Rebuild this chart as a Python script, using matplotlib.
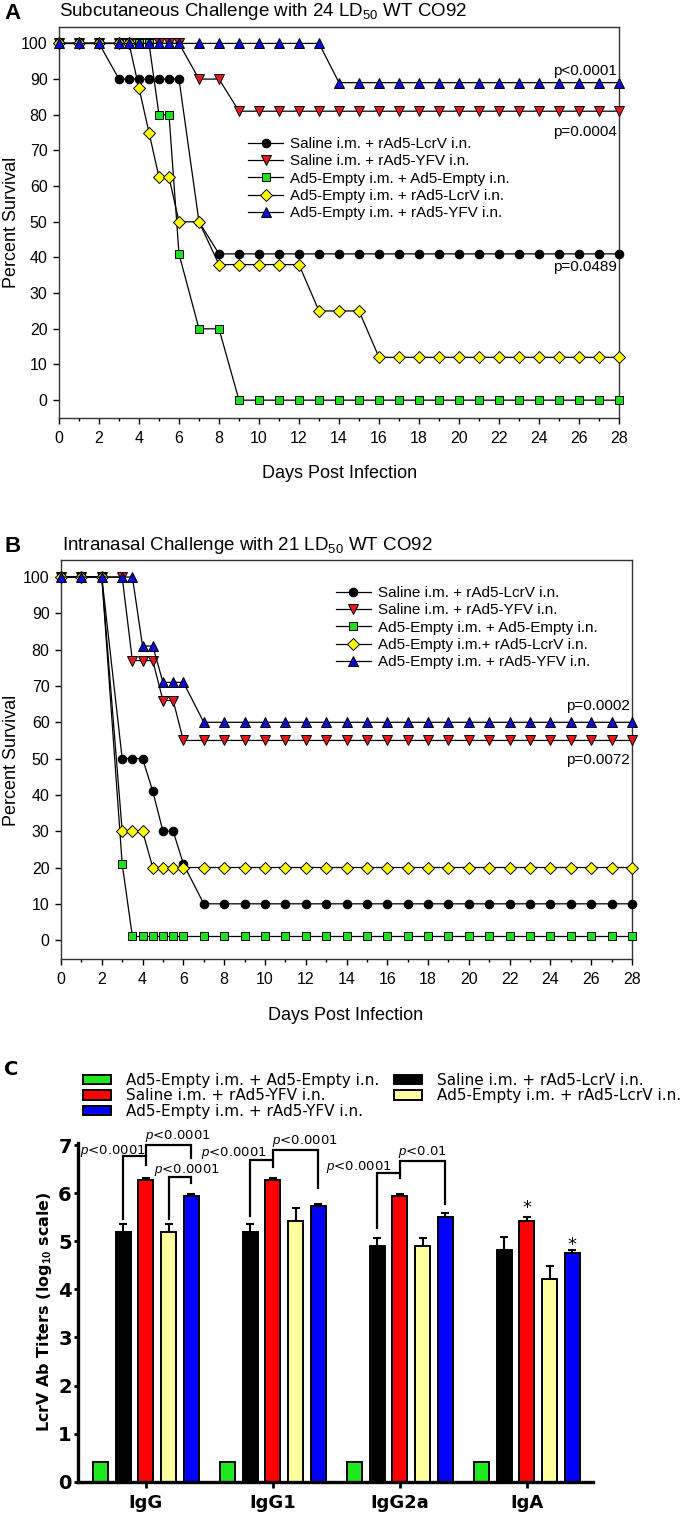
import numpy as np
import matplotlib
matplotlib.use('Agg')
import matplotlib.pyplot as plt
from matplotlib.ticker import MultipleLocator

plt.rcParams['font.family'] = ['Liberation Sans', 'DejaVu Sans']
plt.rcParams['mathtext.fontset'] = 'custom'
plt.rcParams['mathtext.rm'] = 'Liberation Sans'
plt.rcParams['mathtext.it'] = 'Liberation Sans:italic'
plt.rcParams['mathtext.bf'] = 'Liberation Sans:bold'

# ---------------- data ----------------
days = [0, 1, 2, 3, 3.5, 4, 4.5, 5, 5.5, 6, 7, 8, 9, 10, 11, 12, 13, 14, 15,
        16, 17, 18, 19, 20, 21, 22, 23, 24, 25, 26, 27, 28]

labels_a = ['Saline i.m. + rAd5-LcrV i.n.', 'Saline i.m. + rAd5-YFV i.n.',
            'Ad5-Empty i.m. + Ad5-Empty i.n.', 'Ad5-Empty i.m. + rAd5-LcrV i.n.',
            'Ad5-Empty i.m. + rAd5-YFV i.n.']
labels_b = ['Saline i.m. + rAd5-LcrV i.n.', 'Saline i.m. + rAd5-YFV i.n.',
            'Ad5-Empty i.m. + Ad5-Empty i.n.', 'Ad5-Empty i.m.+ rAd5-LcrV i.n.',
            'Ad5-Empty i.m. + rAd5-YFV i.n.']

# Panel A - subcutaneous challenge (percent survival)
a_saline_lcrv = [100, 100, 100, 90, 90, 90, 90, 90, 90, 90, 50, 41, 41, 41, 41, 41,
                 41, 41, 41, 41, 41, 41, 41, 41, 41, 41, 41, 41, 41, 41, 41, 41]
a_saline_yfv = [100, 100, 100, 100, 100, 100, 100, 100, 100, 100, 90, 90, 81, 81, 81, 81,
                81, 81, 81, 81, 81, 81, 81, 81, 81, 81, 81, 81, 81, 81, 81, 81]
a_empty_empty = [100, 100, 100, 100, 100, 100, 100, 80, 80, 41, 20, 20, 0, 0, 0, 0,
                 0, 0, 0, 0, 0, 0, 0, 0, 0, 0, 0, 0, 0, 0, 0, 0]
a_empty_lcrv = [100, 100, 100, 100, 100, 87.5, 75, 62.5, 62.5, 50, 50, 38, 38, 38, 38, 38,
                25, 25, 25, 12, 12, 12, 12, 12, 12, 12, 12, 12, 12, 12, 12, 12]
a_empty_yfv = [100, 100, 100, 100, 100, 100, 100, 100, 100, 100, 100, 100, 100, 100, 100, 100,
               100, 89, 89, 89, 89, 89, 89, 89, 89, 89, 89, 89, 89, 89, 89, 89]
pvals_a = ['p<0.0001', 'p=0.0004', 'p=0.0489']
pvals_a_y = [92.3, 75.3, 37.2]

# Panel B - intranasal challenge (percent survival)
b_saline_lcrv = [100, 100, 100, 50, 50, 50, 41, 30, 30, 21, 10, 10, 10, 10, 10, 10,
                 10, 10, 10, 10, 10, 10, 10, 10, 10, 10, 10, 10, 10, 10, 10, 10]
b_saline_yfv = [100, 100, 100, 100, 77, 77, 77, 66, 66, 55, 55, 55, 55, 55, 55, 55,
                55, 55, 55, 55, 55, 55, 55, 55, 55, 55, 55, 55, 55, 55, 55, 55]
b_empty_empty = [100, 100, 100, 21, 1, 1, 1, 1, 1, 1, 1, 1, 1, 1, 1, 1,
                 1, 1, 1, 1, 1, 1, 1, 1, 1, 1, 1, 1, 1, 1, 1, 1]
b_empty_lcrv = [100, 100, 100, 30, 30, 30, 20, 20, 20, 20, 20, 20, 20, 20, 20, 20,
                20, 20, 20, 20, 20, 20, 20, 20, 20, 20, 20, 20, 20, 20, 20, 20]
b_empty_yfv = [100, 100, 100, 100, 100, 81, 81, 71, 71, 71, 60, 60, 60, 60, 60, 60,
               60, 60, 60, 60, 60, 60, 60, 60, 60, 60, 60, 60, 60, 60, 60, 60]
pvals_b = ['p=0.0002', 'p=0.0072']
pvals_b_y = [64.5, 49.6]

# Panel C - LcrV antibody titers (log10)
isotypes = ['IgG', 'IgG1', 'IgG2a', 'IgA']
c_labels = ['Ad5-Empty i.m. + Ad5-Empty i.n.', 'Saline i.m. + rAd5-LcrV i.n.',
            'Saline i.m. + rAd5-YFV i.n.', 'Ad5-Empty i.m. + rAd5-LcrV i.n.',
            'Ad5-Empty i.m. + rAd5-YFV i.n.']
c_empty_empty = [0.4, 0.4, 0.4, 0.4]
c_saline_lcrv = [5.2, 5.2, 4.9, 4.82]
c_saline_lcrv_err = [0.16, 0.16, 0.16, 0.27]
c_saline_yfv = [6.27, 6.27, 5.95, 5.42]
c_saline_yfv_err = [0.04, 0.04, 0.03, 0.09]
c_empty_lcrv = [5.2, 5.42, 4.9, 4.21]
c_empty_lcrv_err = [0.16, 0.26, 0.16, 0.27]
c_empty_yfv = [5.95, 5.73, 5.5, 4.76]
c_empty_yfv_err = [0.03, 0.05, 0.08, 0.05]

# significance brackets: group, bar from, bar to, top, left leg end, right leg end, text
brackets = [
    (0, 1, 2, 6.78, 5.46, 6.59, 'p<0.0001'),
    (0, 2, 4, 6.99, 6.78, 6.73, 'p<0.0001'),
    (0, 3, 4, 6.34, 5.46, 6.22, 'p<0.0001'),
    (1, 1, 2, 6.69, 5.52, 6.55, 'p<0.0001'),
    (1, 2, 4, 6.90, 6.69, 6.10, 'p<0.0001'),
    (2, 1, 2, 6.42, 5.28, 6.31, 'p<0.0001'),
    (2, 2, 4, 6.66, 6.42, 5.77, 'p<0.01'),
]
# text placement for each bracket: x offset from group centre, y, alignment
bracket_text = [(0.0, 6.88, 'right'), (-0.01, 7.18, 'left'), (0.063, 6.49, 'left'),
                (-0.05, 6.84, 'right'), (-0.01, 7.09, 'left'),
                (-0.065, 6.55, 'right'), (0.178, 6.86, 'center')]
stars = [(3, 2, 5.68), (3, 4, 4.93)]

# ---------------- figure ----------------
W, H = 680, 1516
fig = plt.figure(figsize=(W / 100, H / 100), dpi=100)


def fx(px):
    return px / W


def fy(py):
    return 1 - py / H


def ax_box(left, right, top, bottom):
    return [fx(left), fy(bottom), (right - left) / W, (bottom - top) / H]


styles = [('o', 'black', 6.2), ('v', '#e3191c', 6.6), ('s', '#1fe01f', 5.4),
          ('D', '#ffff00', 6.2), ('^', '#0c0cd0', 6.6)]


def survival(ax, curves, labels, ylim, leg_xy, pv, pv_y):
    for vals, lab, (mk, col, ms) in zip(curves, labels, styles):
        ax.plot(days, vals, color='black', lw=0.9, marker=mk, ms=ms, mfc=col,
                mec='black', mew=0.7, label=lab, clip_on=False, zorder=3)
    ax.set_xlim(0, 28)
    ax.set_ylim(*ylim)
    ax.xaxis.set_major_locator(MultipleLocator(2))
    ax.xaxis.set_minor_locator(MultipleLocator(1))
    ax.yaxis.set_major_locator(MultipleLocator(10))
    ax.tick_params(axis='both', which='major', direction='out', length=4.2,
                   width=1, labelsize=11.5, pad=4)
    ax.tick_params(axis='x', which='major', pad=5)
    ax.tick_params(axis='x', which='minor', direction='out', length=2, width=1)
    for s in ax.spines.values():
        s.set_linewidth(1)
        s.set_color('#333333')
    ax.legend(loc='upper left', bbox_to_anchor=leg_xy, frameon=False,
              borderpad=0, borderaxespad=0, handlelength=2.3, handletextpad=0.45,
              labelspacing=0.22, fontsize=11)
    for t, y in zip(pv, pv_y):
        ax.text(27.9, y, t, ha='right', va='center', fontsize=11)


# Panel A
axA = fig.add_axes(ax_box(59, 619, 27, 418))
survival(axA, [a_saline_lcrv, a_saline_yfv, a_empty_empty, a_empty_lcrv, a_empty_yfv],
         labels_a, (-5, 104.6), (0.3375, 0.719), pvals_a, pvals_a_y)
fig.text(fx(4), fy(19), 'A', fontsize=16, fontweight='bold')
fig.text(fx(59), fy(16), 'Subcutaneous Challenge with 24 LD$_{50}$ WT CO92', fontsize=13.5)
fig.text(fx(340), fy(473), 'Days Post Infection', fontsize=13, ha='center', va='center')
fig.text(fx(12), fy(222), 'Percent Survival', fontsize=13, rotation=90, ha='center', va='center')

# Panel B
axB = fig.add_axes(ax_box(61, 632, 560, 959))
survival(axB, [b_saline_lcrv, b_saline_yfv, b_empty_empty, b_empty_lcrv, b_empty_yfv],
         labels_b, (-5.2, 104.7), (0.481, 0.935), pvals_b, pvals_b_y)
fig.text(fx(4), fy(552), 'B', fontsize=16, fontweight='bold')
fig.text(fx(62), fy(550), 'Intranasal Challenge with 21 LD$_{50}$ WT CO92', fontsize=13.5)
fig.text(fx(346), fy(1016), 'Days Post Infection', fontsize=13, ha='center', va='center')
fig.text(fx(12), fy(760), 'Percent Survival', fontsize=13, rotation=90, ha='center', va='center')

# Panel C
cfont = 'DejaVu Sans'
axC = fig.add_axes(ax_box(78, 593, 1142.6, 1481.7))
x = np.arange(len(isotypes))
step, bw = 0.178, 0.118
bar_series = [
    (c_empty_empty, None, '#1ee81e'),
    (c_saline_lcrv, c_saline_lcrv_err, '#000000'),
    (c_saline_yfv, c_saline_yfv_err, '#ff0000'),
    (c_empty_lcrv, c_empty_lcrv_err, '#ffffa0'),
    (c_empty_yfv, c_empty_yfv_err, '#0000ff'),
]
handles = []
for k, (vals, errs, col) in enumerate(bar_series):
    xs = x + (k - 2) * step
    b = axC.bar(xs, vals, bw, color=col, edgecolor='black', linewidth=1.4,
                label=c_labels[k], zorder=2)
    handles.append(b)
    if errs is not None:
        axC.errorbar(xs, vals, yerr=[np.zeros(len(vals)), errs], fmt='none',
                     ecolor='black', elinewidth=1.5, capsize=3, capthick=1.5, zorder=1)

for (g, i1, i2, top, e1, e2, lab), (dx, ty, ha) in zip(brackets, bracket_text):
    x1 = g + (i1 - 2) * step
    x2 = g + (i2 - 2) * step
    axC.plot([x1, x1, x2, x2], [e1, top, top, e2], color='black', lw=1.6,
             solid_joinstyle='miter', zorder=3)
    axC.text(g + dx, ty, r'$\it{p}$' + lab[1:], ha=ha, va='center', fontsize=9.5,
             family=cfont)

for g, i, y in stars:
    axC.text(g + (i - 2) * step, y, '*', ha='center', va='center', fontsize=13,
             family=cfont)

axC.set_xlim(-0.535, 3.52)
axC.set_ylim(0, 7.05)
axC.set_yticks(range(0, 8))
axC.set_xticks(x)
axC.set_xticklabels(isotypes, fontsize=13, fontweight='bold', family=cfont)
for lab in axC.get_yticklabels():
    lab.set_fontweight('bold')
    lab.set_family(cfont)
    lab.set_fontsize(14)
axC.tick_params(axis='y', direction='out', length=3, width=2, pad=1.5)
axC.tick_params(axis='x', direction='out', length=4, width=2, pad=5)
axC.spines['top'].set_visible(False)
axC.spines['right'].set_visible(False)
axC.spines['left'].set_linewidth(2.4)
axC.spines['bottom'].set_linewidth(2.4)

fig.text(fx(44), fy(1312), r'LcrV Ab Titers (log$_\mathbf{10}$ scale)', rotation=90,
         ha='center', va='center', fontsize=11.5, fontweight='bold', family=cfont)
fig.text(fx(4), fy(1075), 'C', fontsize=14, fontweight='bold', family=cfont)

order = [0, 2, 4, 1, 3]
fig.legend([handles[i] for i in order], [c_labels[i] for i in order],
           loc='upper left', bbox_to_anchor=(fx(83), fy(1073)), ncol=2,
           frameon=False, borderpad=0, borderaxespad=0, handlelength=1.8,
           handleheight=0.55, handletextpad=1.0, columnspacing=1.0,
           labelspacing=0.02, prop={'family': cfont, 'size': 11})

fig.savefig('out.png', dpi=100)
